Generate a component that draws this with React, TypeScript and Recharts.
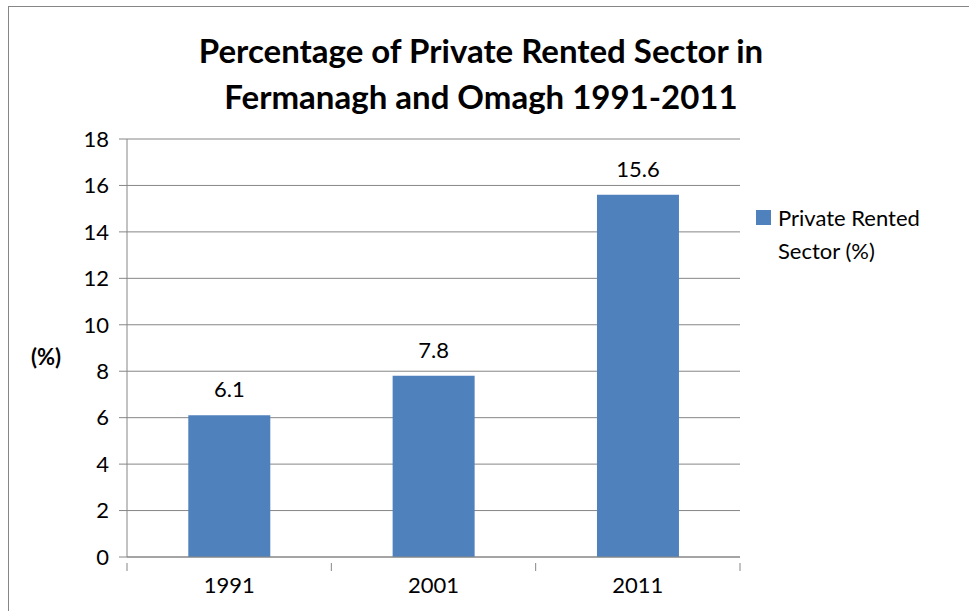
import { BarChart, Bar, XAxis, YAxis, CartesianGrid, Legend, LabelList } from "recharts"

const years = ["1991", "2001", "2011"]
const privateRented = [6.1, 7.8, 15.6]
const yTicks = [0, 2, 4, 6, 8, 10, 12, 14, 16, 18]

const data = years.map((year, i) => ({ year, value: privateRented[i] }))

const font = "Lato, 'Open Sans', sans-serif"
const axisGray = "#868686"

// year label plus the short tick marks that sit on the category boundaries
function YearTick(props: any) {
  const { x, y, payload, index } = props
  const half = payload.offset ?? 0
  const axisY = y - 14
  return (
    <g>
      <line x1={x - half} x2={x - half} y1={axisY} y2={axisY + 8} stroke={axisGray} />
      {index === years.length - 1 && <line x1={x + half} x2={x + half} y1={axisY} y2={axisY + 8} stroke={axisGray} />}
      <text x={x} y={y} dy="0.71em" textAnchor="middle" fontSize={22} fill="#000" fontFamily={font}>
        {payload.value}
      </text>
    </g>
  )
}

function LegendBox() {
  return (
    <div style={{ display: "flex", alignItems: "flex-start", fontFamily: font, fontSize: 22, color: "#000", lineHeight: "33px" }}>
      <div style={{ width: 15, height: 15, background: "#4F81BD", marginTop: 9, marginRight: 7, flexShrink: 0 }} />
      <div style={{ width: 175 }}>Private Rented Sector (%)</div>
    </div>
  )
}

export default function App() {
  return (
    <div style={{ position: "absolute", left: 0, top: 0, width: 969, height: 611, background: "#fff", overflow: "hidden" }}>
      {/* outer frame, only top and left edges are in view */}
      <div style={{ position: "absolute", left: 8, top: 6, width: 1000, height: 700, borderLeft: "1.5px solid #868686", borderTop: "1.5px solid #868686" }} />
      <div
        style={{
          position: "absolute",
          left: 0,
          top: 27,
          width: 962,
          textAlign: "center",
          fontFamily: font,
          fontWeight: 700,
          fontSize: 33,
          lineHeight: "46px",
          color: "#000",
        }}
      >
        Percentage of Private Rented Sector in
        <br />
        Fermanagh and Omagh 1991-2011
      </div>
      <BarChart width={969} height={611} data={data} margin={{ top: 139, right: 229, left: 20, bottom: 14 }} barCategoryGap="30%">
        <CartesianGrid vertical={false} stroke={axisGray} strokeWidth={1} />
        <XAxis
          dataKey="year"
          height={40}
          axisLine={{ stroke: axisGray }}
          tickLine={false}
          tick={<YearTick />}
          tickMargin={14}
        />
        <YAxis
          width={107}
          domain={[0, 18]}
          ticks={yTicks}
          axisLine={{ stroke: axisGray }}
          tickLine={{ stroke: axisGray }}
          tickSize={8}
          tickMargin={10}
          tick={{ fontSize: 22, fill: "#000", fontFamily: font }}
          label={{ value: "(%)", position: "insideLeft", offset: 11, dy: 9, style: { fontSize: 22, fontWeight: 700, fill: "#000", fontFamily: font } }}
        />
        <Legend
          layout="vertical"
          align="center"
          verticalAlign="middle"
          content={() => <LegendBox />}
          wrapperStyle={{ left: 756, top: 201, width: 200 }}
        />
        <Bar dataKey="value" name="Private Rented Sector (%)" fill="#4F81BD" isAnimationActive={false}>
          <LabelList dataKey="value" position="top" offset={18} style={{ fontSize: 22, fill: "#000", fontFamily: font }} />
        </Bar>
      </BarChart>
    </div>
  )
}
